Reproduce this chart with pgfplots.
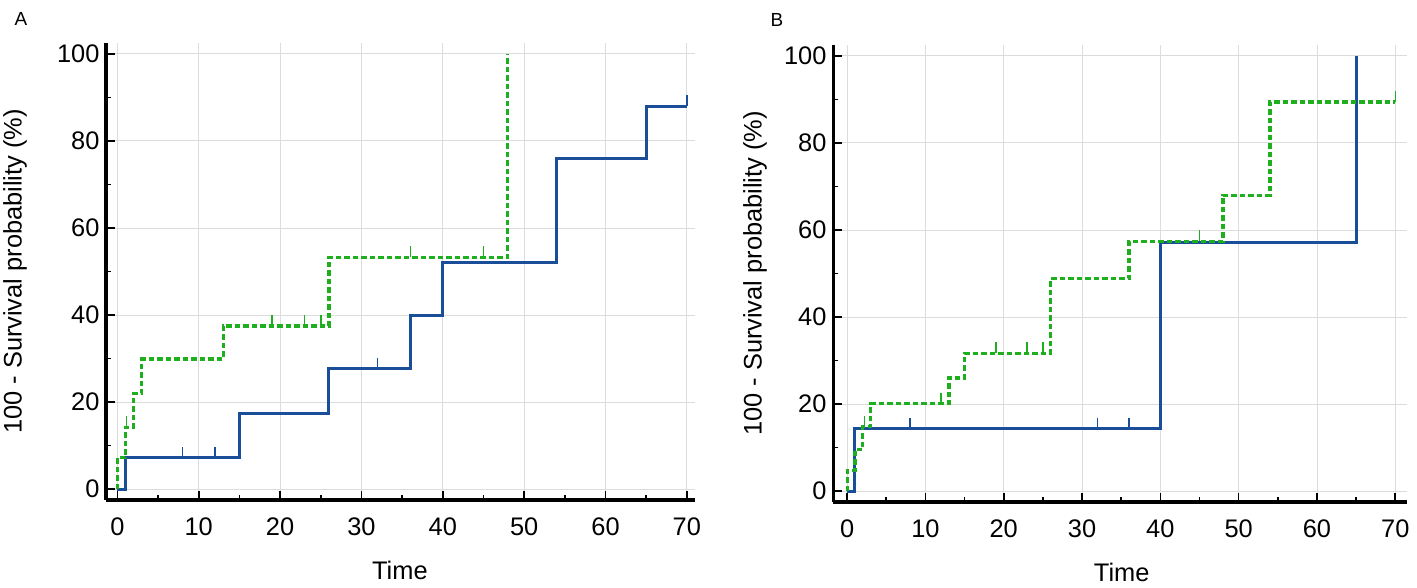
\documentclass[border=0pt]{standalone}
\usepackage{fontspec}
\setmainfont{Liberation Sans}
\usepackage{pgfplots}
\pgfplotsset{compat=1.18}
\definecolor{kmblue}{RGB}{26,78,152}
\definecolor{kmgreen}{RGB}{30,175,30}
\definecolor{gridgray}{RGB}{220,220,220}
\pgfdeclareplotmark{cens}{\pgfpathmoveto{\pgfpointorigin}\pgfpathlineto{\pgfpoint{0pt}{11bp}}\pgfusepathqstroke}
\pgfplotsset{
  kmaxis/.style={
    scale only axis,
    axis x line*=bottom, axis y line*=left,
    axis line style={line width=3bp, black},
    tick align=inside,
    major tick length=9bp, minor tick length=5bp,
    every tick/.style={black, line width=1.6bp},
    xmin=-1.4, ymin=-2.5, ymax=102.5,
    xtick={0,10,...,70}, minor xtick={5,15,...,65},
    ytick={0,20,...,100}, minor ytick={10,30,...,90},
    grid=major,
    major grid style={gridgray, line width=0.9bp},
    /pgf/number format/assume math mode=true,
    ticklabel style={font=\fontsize{25.5}{30}\selectfont},
    xticklabel shift=14bp,
    yticklabel shift=3bp,
    label style={font=\fontsize{25.5}{30}\selectfont},
    ylabel={100 - Survival probability (\%)},
    xlabel={Time},
    clip=false,
  },
  bluestep/.style={const plot, kmblue, line width=3bp, no marks},
  greenstep/.style={const plot, kmgreen, line width=3.2bp, dash pattern=on 5.5bp off 3bp, no marks},
  bluecens/.style={only marks, mark=cens, kmblue, mark options={solid, line width=1.5bp}},
  greencens/.style={only marks, mark=cens, kmgreen, mark options={solid, line width=1.5bp}},
}
\begin{document}
\begin{tikzpicture}
\useasboundingbox (0,0) rectangle (1417bp,588bp);
\node[font=\fontsize{19}{22}\selectfont] at (21bp,569bp) {A};
\node[font=\fontsize{19}{22}\selectfont] at (777bp,568bp) {B};
% Panel A
\begin{axis}[kmaxis, at={(106bp,88bp)}, anchor=south west,
  width=589bp, height=457bp, xmax=71,
  ylabel style={at={(axis description cs:-0.1545,0.5)}, anchor=center},
  xlabel style={at={(axis description cs:0.499,-0.153)}, anchor=center}]
\addplot[bluestep] coordinates {(0,0) (1,7.2) (15,17.4) (26,27.7) (36,39.9) (40,52) (54,76) (65,88) (70,88)};
\addplot[bluecens] coordinates {(8,7.2) (12,7.2) (32,27.7) (70,88)};
\addplot[greenstep] coordinates {(0,0) (0,7.2) (1,14.2) (2,22) (3,29.9) (13,37.5) (26,53.3) (48,100)};
\addplot[greencens] coordinates {(1.1,14.2) (19,37.5) (23,37.5) (25,37.5) (36,53.3) (45,53.3)};
\end{axis}
% Panel B
\begin{axis}[kmaxis, at={(833bp,86bp)}, anchor=south west,
  width=574bp, height=457bp, xmax=71.5, xmin=-1.8,
  ylabel style={at={(axis description cs:-0.136,0.5)}, anchor=center},
  xlabel style={at={(axis description cs:0.503,-0.153)}, anchor=center}]
\addplot[bluestep] coordinates {(0,0) (1,14.3) (40,57.2) (65,100)};
\addplot[bluecens] coordinates {(8,14.3) (32,14.3) (36,14.3)};
\addplot[greenstep] coordinates {(0,0) (0,4.8) (1,9.5) (2,14.8) (3,20.1) (13,26) (15,31.7) (26,48.8) (36,57.4) (48,68) (54,89.4) (70,89.4)};
\addplot[greencens] coordinates {(2.2,14.8) (12,20.1) (19,31.7) (23,31.7) (25,31.7) (45,57.4) (70,89.4)};
\end{axis}
\end{tikzpicture}
\end{document}
